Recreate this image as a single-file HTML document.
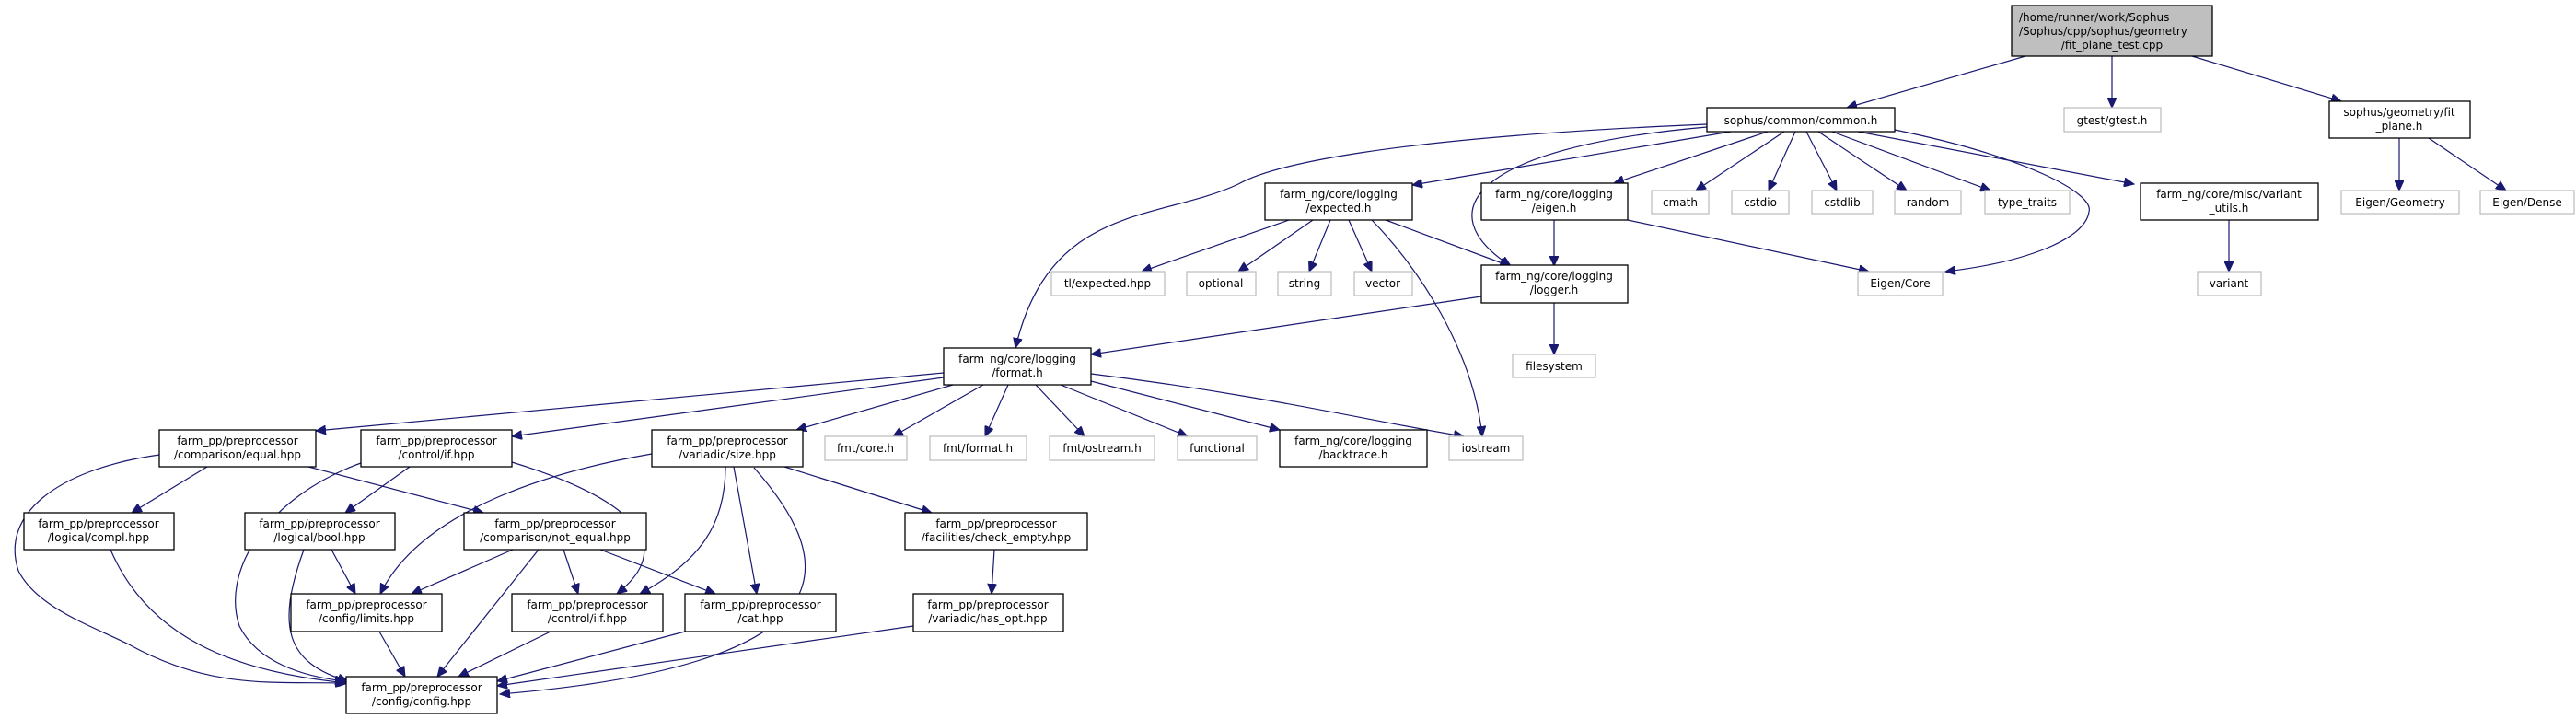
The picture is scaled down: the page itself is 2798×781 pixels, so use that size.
<!DOCTYPE html>
<html><head><meta charset="utf-8"><style>
html,body{margin:0;padding:0;background:#fff;}
svg{display:block;}
text{font-family:"DejaVu Sans","Liberation Sans",sans-serif;font-size:12px;fill:#000;}
.b{fill:#fff;stroke:#000;stroke-width:1.3;}
.g{fill:#fff;stroke:#bfbfbf;stroke-width:1.3;}
.e{fill:none;stroke:#191970;stroke-width:1.2;}
</style></head><body>
<svg width="2798" height="781" viewBox="0 0 2798 781" xmlns="http://www.w3.org/2000/svg">
<defs><marker id="a" markerUnits="userSpaceOnUse" markerWidth="12" markerHeight="10" refX="11" refY="5" orient="auto"><path d="M0,0 L11,5 L0,10 z" fill="#191970" stroke="#191970"/></marker></defs>
<g marker-end="url(#a)" class="e">
<path d="M2200,61 L2006,117"/>
<path d="M2294,61 L2294,117"/>
<path d="M2381,61 L2543,110"/>
<path d="M2606,150 L2606,207"/>
<path d="M2638,150 L2722,207"/>
<path d="M1854,135 C1500,150 1380,180 1345,200 C1260,240 1140,220 1103,378"/>
<path d="M1880,143 L1534,201"/>
<path d="M1854,138 C1600,160 1550,230 1641,289"/>
<path d="M1920,143 L1753,199"/>
<path d="M1938,143 L1842,207"/>
<path d="M1950,143 L1921,207"/>
<path d="M1962,143 L1995,207"/>
<path d="M1975,143 L2071,207"/>
<path d="M1990,143 L2162,207"/>
<path d="M2018,143 L2318,200"/>
<path d="M2058,141 C2200,170 2275,210 2269,230 C2265,260 2200,285 2113,295"/>
<path d="M1400,239 L1240,295"/>
<path d="M1426,239 L1345,295"/>
<path d="M1445,239 L1422,295"/>
<path d="M1465,239 L1490,295"/>
<path d="M1505,239 L1640,289"/>
<path d="M1490,239 C1540,290 1600,380 1610,474"/>
<path d="M1688,239 L1688,289"/>
<path d="M1768,239 L2030,295"/>
<path d="M1609,322 L1185,385"/>
<path d="M1688,329 L1688,385"/>
<path d="M2421,239 L2421,295"/>
<path d="M1025,405 L343,468"/>
<path d="M1025,410 L556,474"/>
<path d="M1035,418 L865,467"/>
<path d="M1068,418 L970,474"/>
<path d="M1095,418 L1070,474"/>
<path d="M1125,418 L1178,474"/>
<path d="M1152,418 L1290,474"/>
<path d="M1185,414 L1390,467"/>
<path d="M1185,406 C1380,430 1500,460 1590,474"/>
<path d="M225,507 L143,557"/>
<path d="M335,507 L525,557"/>
<path d="M173,494 C60,510 0,560 20,620 C40,660 100,680 140,700 C230,750 300,740 375,742"/>
<path d="M445,507 L375,557"/>
<path d="M556,502 C680,540 740,590 670,645"/>
<path d="M392,503 C290,540 240,620 260,680 C280,720 330,735 375,740"/>
<path d="M708,493 C610,510 460,550 413,645"/>
<path d="M788,507 C788,570 760,610 695,645"/>
<path d="M797,507 L822,645"/>
<path d="M819,508 C900,600 950,720 543,754"/>
<path d="M852,507 L1012,557"/>
<path d="M120,597 C160,690 250,730 378,742"/>
<path d="M360,597 L386,645"/>
<path d="M330,597 C300,680 310,720 378,740"/>
<path d="M557,597 L447,645"/>
<path d="M585,597 L475,735"/>
<path d="M612,597 L628,645"/>
<path d="M652,597 L777,645"/>
<path d="M412,686 L440,735"/>
<path d="M598,686 L498,735"/>
<path d="M744,686 L540,740"/>
<path d="M1080,597 L1077,645"/>
<path d="M992,680 L540,745"/>
</g>
<!-- nodes -->
<rect x="2185" y="6" width="218" height="55" fill="#bfbfbf" stroke="#000" stroke-width="1.3"/>
<text x="2193" y="23">/home/runner/work/Sophus</text>
<text x="2193" y="38">/Sophus/cpp/sophus/geometry</text>
<text x="2294" y="53" text-anchor="middle">/fit_plane_test.cpp</text>

<g text-anchor="middle">
<rect class="b" x="1854" y="117" width="204" height="26"/><text x="1956" y="135">sophus/common/common.h</text>
<rect class="g" x="2242" y="117" width="105" height="26"/><text x="2294" y="135">gtest/gtest.h</text>
<rect class="b" x="2530" y="110" width="153" height="40"/><text x="2606" y="126">sophus/geometry/fit</text><text x="2606" y="141">_plane.h</text>
<rect class="g" x="2543" y="207" width="128" height="25"/><text x="2607" y="224">Eigen/Geometry</text>
<rect class="g" x="2694" y="207" width="102" height="25"/><text x="2745" y="224">Eigen/Dense</text>
<rect class="b" x="1374" y="199" width="160" height="40"/><text x="1454" y="215">farm_ng/core/logging</text><text x="1454" y="230">/expected.h</text>
<rect class="b" x="1609" y="199" width="159" height="40"/><text x="1688" y="215">farm_ng/core/logging</text><text x="1688" y="230">/eigen.h</text>
<rect class="g" x="1794" y="207" width="62" height="25"/><text x="1825" y="224">cmath</text>
<rect class="g" x="1881" y="207" width="62" height="25"/><text x="1912" y="224">cstdio</text>
<rect class="g" x="1968" y="207" width="66" height="25"/><text x="2001" y="224">cstdlib</text>
<rect class="g" x="2058" y="207" width="72" height="25"/><text x="2094" y="224">random</text>
<rect class="g" x="2156" y="207" width="92" height="25"/><text x="2202" y="224">type_traits</text>
<rect class="b" x="2325" y="199" width="193" height="40"/><text x="2421" y="215">farm_ng/core/misc/variant</text><text x="2421" y="230">_utils.h</text>
<rect class="g" x="1142" y="295" width="123" height="26"/><text x="1203" y="312">tl/expected.hpp</text>
<rect class="g" x="1289" y="295" width="75" height="26"/><text x="1326" y="312">optional</text>
<rect class="g" x="1388" y="295" width="58" height="26"/><text x="1417" y="312">string</text>
<rect class="g" x="1471" y="295" width="63" height="26"/><text x="1502" y="312">vector</text>
<rect class="b" x="1609" y="288" width="159" height="41"/><text x="1688" y="304">farm_ng/core/logging</text><text x="1688" y="319">/logger.h</text>
<rect class="g" x="2018" y="295" width="92" height="26"/><text x="2064" y="312">Eigen/Core</text>
<rect class="g" x="2387" y="295" width="69" height="26"/><text x="2421" y="312">variant</text>
<rect class="g" x="1643" y="385" width="90" height="25"/><text x="1688" y="402">filesystem</text>
<rect class="b" x="1025" y="378" width="160" height="40"/><text x="1105" y="394">farm_ng/core/logging</text><text x="1105" y="409">/format.h</text>
<rect class="b" x="173" y="467" width="170" height="40"/><text x="258" y="483">farm_pp/preprocessor</text><text x="258" y="498">/comparison/equal.hpp</text>
<rect class="b" x="392" y="467" width="164" height="40"/><text x="474" y="483">farm_pp/preprocessor</text><text x="474" y="498">/control/if.hpp</text>
<rect class="b" x="708" y="467" width="164" height="40"/><text x="790" y="483">farm_pp/preprocessor</text><text x="790" y="498">/variadic/size.hpp</text>
<rect class="g" x="896" y="474" width="89" height="26"/><text x="940" y="491">fmt/core.h</text>
<rect class="g" x="1010" y="474" width="105" height="26"/><text x="1062" y="491">fmt/format.h</text>
<rect class="g" x="1140" y="474" width="114" height="26"/><text x="1197" y="491">fmt/ostream.h</text>
<rect class="g" x="1279" y="474" width="86" height="26"/><text x="1322" y="491">functional</text>
<rect class="b" x="1390" y="467" width="160" height="40"/><text x="1470" y="483">farm_ng/core/logging</text><text x="1470" y="498">/backtrace.h</text>
<rect class="g" x="1574" y="474" width="80" height="26"/><text x="1614" y="491">iostream</text>
<rect class="b" x="26" y="557" width="163" height="40"/><text x="107" y="573">farm_pp/preprocessor</text><text x="107" y="588">/logical/compl.hpp</text>
<rect class="b" x="266" y="557" width="163" height="40"/><text x="347" y="573">farm_pp/preprocessor</text><text x="347" y="588">/logical/bool.hpp</text>
<rect class="b" x="504" y="557" width="198" height="40"/><text x="603" y="573">farm_pp/preprocessor</text><text x="603" y="588">/comparison/not_equal.hpp</text>
<rect class="b" x="983" y="557" width="198" height="40"/><text x="1082" y="573">farm_pp/preprocessor</text><text x="1082" y="588">/facilities/check_empty.hpp</text>
<rect class="b" x="316" y="645" width="164" height="41"/><text x="398" y="661">farm_pp/preprocessor</text><text x="398" y="676">/config/limits.hpp</text>
<rect class="b" x="556" y="645" width="164" height="41"/><text x="638" y="661">farm_pp/preprocessor</text><text x="638" y="676">/control/iif.hpp</text>
<rect class="b" x="744" y="645" width="164" height="41"/><text x="826" y="661">farm_pp/preprocessor</text><text x="826" y="676">/cat.hpp</text>
<rect class="b" x="992" y="645" width="163" height="41"/><text x="1073" y="661">farm_pp/preprocessor</text><text x="1073" y="676">/variadic/has_opt.hpp</text>
<rect class="b" x="376" y="735" width="164" height="40"/><text x="458" y="751">farm_pp/preprocessor</text><text x="458" y="766">/config/config.hpp</text>
</g>
</svg>
</body></html>
